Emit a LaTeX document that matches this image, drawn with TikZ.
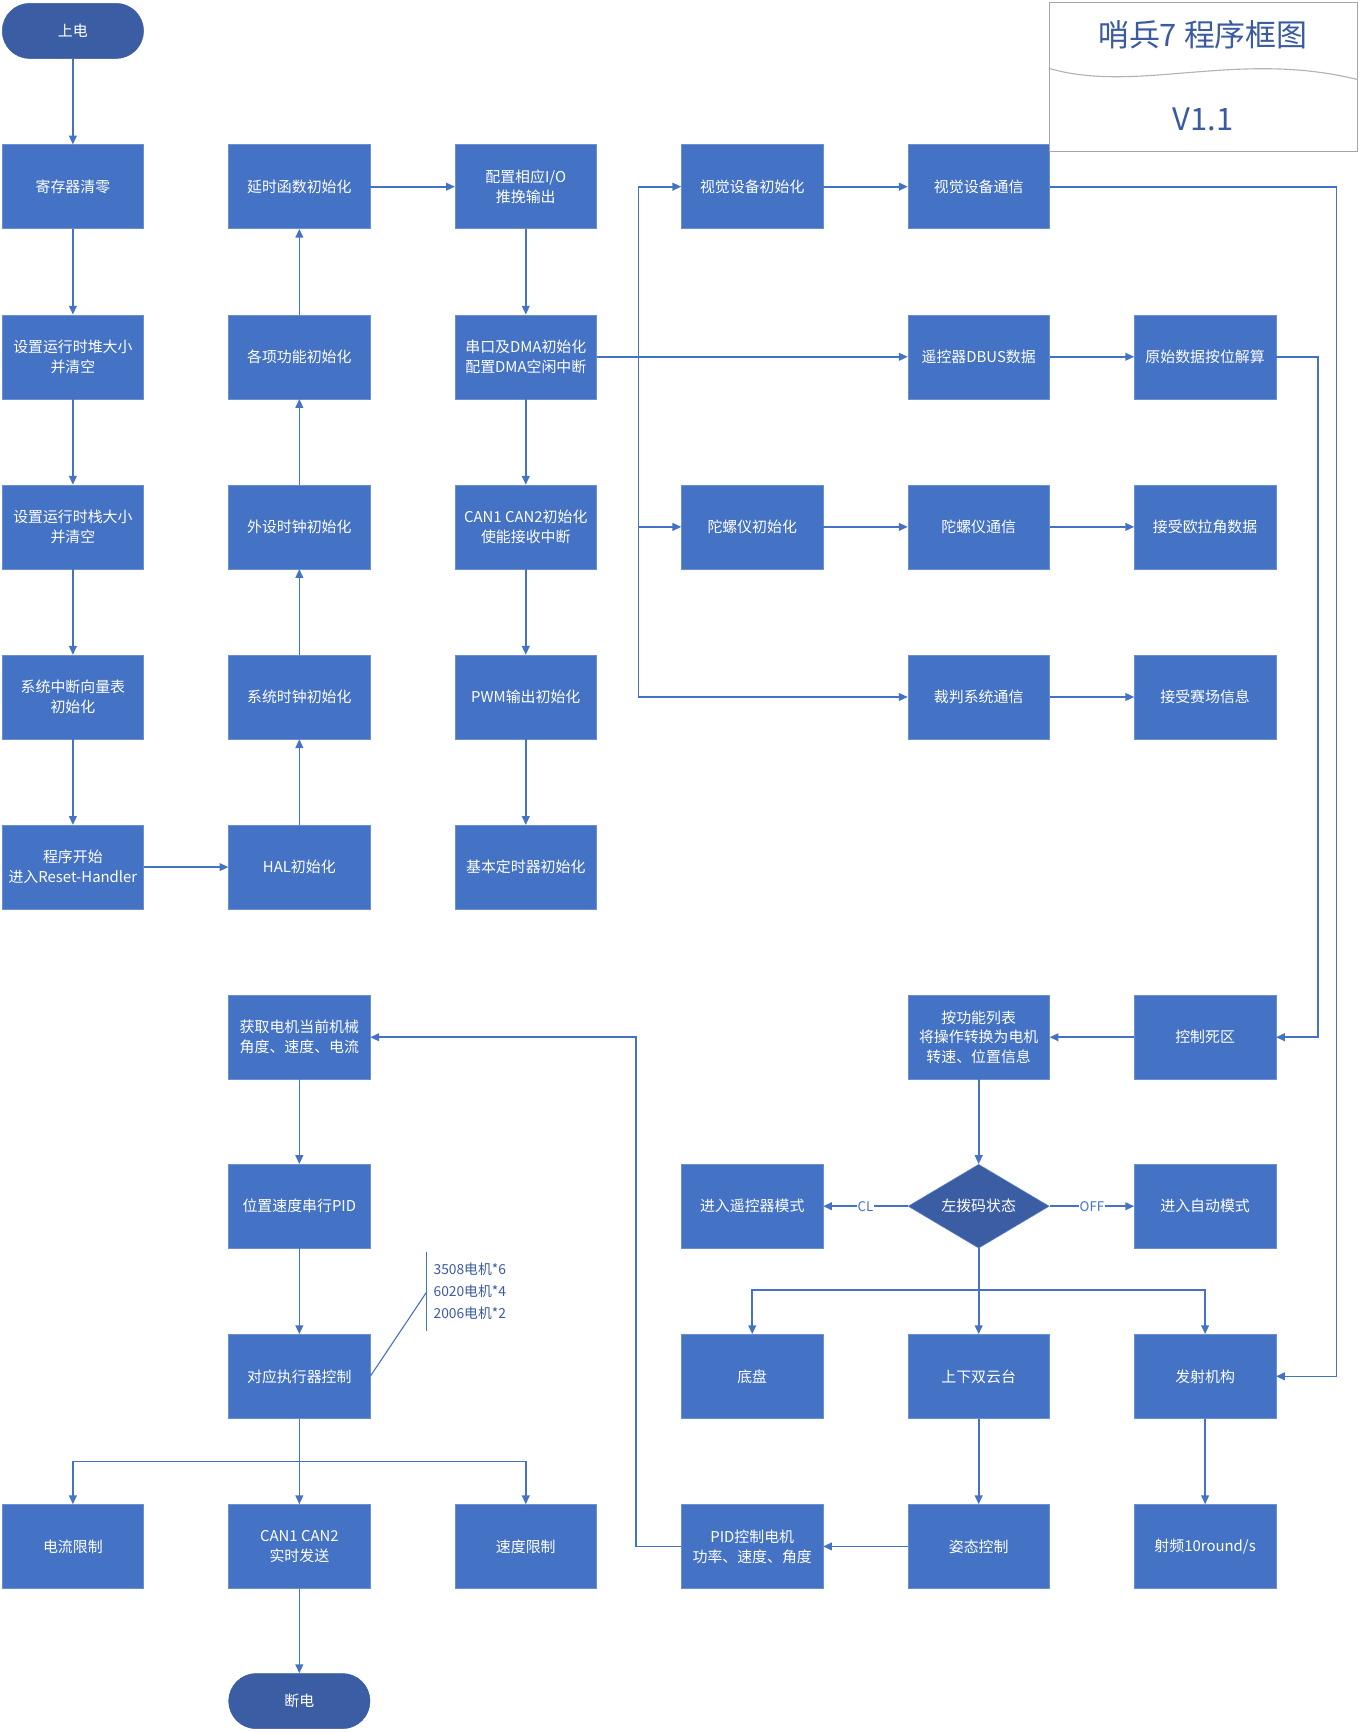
\documentclass[tikz,border=0pt]{standalone}
\usepackage{fontspec}
\setmainfont{Noto Sans CJK SC}
\usetikzlibrary{shapes.geometric,arrows.meta}
\definecolor{bx}{HTML}{4472C4}
\definecolor{bd}{HTML}{6C8FD0}
\definecolor{tt}{HTML}{3A5BA0}
\begin{document}
\begin{tikzpicture}[x=1pt,y=-1pt,
 box/.style={draw=bd,fill=bx,minimum width=128pt,minimum height=76pt,text=white,align=center,font=\fontsize{13.5}{18}\selectfont,inner sep=1pt},
 term/.style={draw=tt,fill=tt!90!bx,rounded corners=25pt,minimum width=128pt,minimum height=50pt,text=white,font=\fontsize{13.5}{18}\selectfont},
 dia/.style={diamond,aspect=1.68,draw=bd,fill=tt!90!bx,minimum width=128pt,minimum height=76pt,inner sep=0pt,text=white,font=\fontsize{13.5}{18}\selectfont},
 ar/.style={draw=bx,line width=1.5pt,-{Triangle[length=8pt,width=7pt]}},
 ln/.style={draw=bx,line width=1.5pt},
 lab/.style={fill=white,text=bx,font=\fontsize{12}{14}\selectfont,inner sep=1pt}]
\useasboundingbox (0,0) rectangle (1231,1568);
\node[term] (s) at (66,28) {上电};
\node[box] (a1) at (66,169) {寄存器清零};
\node[box] (a2) at (66,323) {设置运行时堆大小\\并清空};
\node[box] (a3) at (66,477) {设置运行时栈大小\\并清空};
\node[box] (a4) at (66,631) {系统中断向量表\\初始化};
\node[box] (a5) at (66,785) {程序开始\\进入Reset-Handler};
\node[box] (b5) at (271,785) {HAL初始化};
\node[box] (b4) at (271,631) {系统时钟初始化};
\node[box] (b3) at (271,477) {外设时钟初始化};
\node[box] (b2) at (271,323) {各项功能初始化};
\node[box] (b1) at (271,169) {延时函数初始化};
\node[box] (c1) at (476,169) {配置相应I/O\\推挽输出};
\node[box] (c2) at (476,323) {串口及DMA初始化\\配置DMA空闲中断};
\node[box] (c3) at (476,477) {CAN1 CAN2初始化\\使能接收中断};
\node[box] (c4) at (476,631) {PWM输出初始化};
\node[box] (c5) at (476,785) {基本定时器初始化};
\node[box] (d1) at (681,169) {视觉设备初始化};
\node[box] (d3) at (681,477) {陀螺仪初始化};
\node[box] (e1) at (886,169) {视觉设备通信};
\node[box] (e2) at (886,323) {遥控器DBUS数据};
\node[box] (e3) at (886,477) {陀螺仪通信};
\node[box] (e4) at (886,631) {裁判系统通信};
\node[box] (f2) at (1091,323) {原始数据按位解算};
\node[box] (f3) at (1091,477) {接受欧拉角数据};
\node[box] (f4) at (1091,631) {接受赛场信息};
\node[box] (f6) at (1091,939) {控制死区};
\node[box] (e6) at (886,939) {按功能列表\\将操作转换为电机\\转速、位置信息};
\node[dia] (dm) at (886,1092) {左拨码状态};
\node[box] (d7) at (681,1092) {进入遥控器模式};
\node[box] (f7) at (1091,1092) {进入自动模式};
\node[box] (d8) at (681,1246) {底盘};
\node[box] (e8) at (886,1246) {上下双云台};
\node[box] (f8) at (1091,1246) {发射机构};
\node[box] (e9) at (886,1400) {姿态控制};
\node[box] (f9) at (1091,1400) {射频10round/s};
\node[box] (d9) at (681,1400) {PID控制电机\\功率、速度、角度};
\node[box] (g6) at (271,939) {获取电机当前机械\\角度、速度、电流};
\node[box] (g7) at (271,1092) {位置速度串行PID};
\node[box] (g8) at (271,1246) {对应执行器控制};
\node[box] (h1) at (66,1400) {电流限制};
\node[box] (h2) at (271,1400) {CAN1 CAN2\\实时发送};
\node[box] (h3) at (476,1400) {速度限制};
\node[term] (t) at (271,1540) {断电};
% title
\draw[draw=gray!70,fill=white] (950,2) rectangle (1229,137);
\draw[draw=gray!60,line width=1pt] (950,62) .. controls (1030,85) and (1120,45) .. (1229,72);
\node[text=tt,font=\fontsize{28}{32}\selectfont] (ti) at (1089,31) {哨兵7 程序框图};
\node[text=tt,font=\fontsize{28}{32}\selectfont] (tv) at (1089,108) {V1.1};
% edges
\draw[ar] (s)--(a1); \draw[ar] (a1)--(a2); \draw[ar] (a2)--(a3); \draw[ar] (a3)--(a4); \draw[ar] (a4)--(a5);
\draw[ar] (a5)--(b5); \draw[ar] (b5)--(b4); \draw[ar] (b4)--(b3); \draw[ar] (b3)--(b2); \draw[ar] (b2)--(b1);
\draw[ar] (b1)--(c1); \draw[ar] (c1)--(c2); \draw[ar] (c2)--(c3); \draw[ar] (c3)--(c4); \draw[ar] (c4)--(c5);
\coordinate (bus) at (578,323);
\draw[ln] (c2.east)--(bus);
\draw[ar] (bus)|-(d1); \draw[ar] (bus)|-(d3); \draw[ar] (bus)|-(e4);
\draw[ar] (c2.east)--(e2);
\draw[ar] (d1)--(e1); \draw[ar] (e2)--(f2); \draw[ar] (d3)--(e3); \draw[ar] (e3)--(f3); \draw[ar] (e4)--(f4);
\coordinate (r1) at (1210,169);
\draw[ar] (e1.east)--(r1)|-(f8.east);
\coordinate (r2) at (1193,323);
\draw[ar] (f2.east)--(r2)|-(f6.east);
\draw[ar] (f6)--(e6); \draw[ar] (e6)--(dm);
\draw[ar] (dm)--node[lab]{CL}(d7); \draw[ar] (dm)--node[lab]{OFF}(f7);
\coordinate (j1) at (886,1168);
\draw[ln] (dm.south)--(j1);
\draw[ar] (j1)-|(d8); \draw[ar] (j1)-|(f8); \draw[ar] (j1)--(e8);
\draw[ar] (e8)--(e9); \draw[ar] (f8)--(f9); \draw[ar] (e9)--(d9);
\coordinate (l1) at (576,1400);
\draw[ar] (d9.west)--(l1)|-(g6.east);
\draw[ar] (g6)--(g7); \draw[ar] (g7)--(g8);
\coordinate (j2) at (271,1323);
\draw[ln] (g8.south)--(j2);
\draw[ar] (j2)-|(h1); \draw[ar] (j2)-|(h3); \draw[ar] (j2)--(h2);
\draw[ar] (h2)--(t);
% note
\coordinate (n1) at (386,1133); \coordinate (n2) at (386,1205); \coordinate (n3) at (386,1170);
\draw[ln,line width=1pt] (n1)--(n2); \draw[ln,line width=1pt] (g8.east)--(n3);
\node[anchor=west,align=left,text=tt,font=\fontsize{12.5}{19.5}\selectfont] (nt) at (389,1169) {3508电机*6\\6020电机*4\\2006电机*2};
\end{tikzpicture}
\end{document}
